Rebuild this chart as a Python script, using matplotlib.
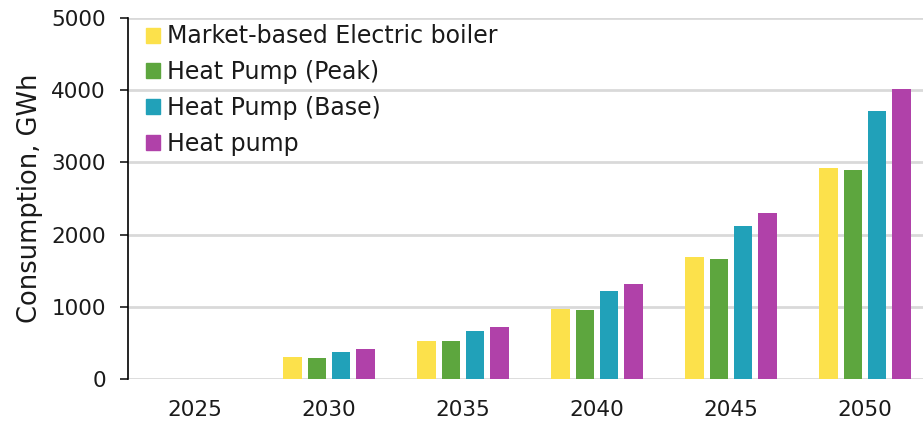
import numpy as np
import matplotlib.pyplot as plt
from matplotlib.patches import Patch

years = ["2025", "2030", "2035", "2040", "2045", "2050"]
electric_boiler = [0, 300, 526, 964, 1687, 2922]
hp_peak = [0, 290, 521, 958, 1664, 2895]
hp_base = [0, 373, 668, 1213, 2120, 3707]
heat_pump = [0, 411, 723, 1318, 2304, 4015]

series = [
    ("Market-based Electric boiler", electric_boiler, "#FCE14B"),
    ("Heat Pump (Peak)", hp_peak, "#5DA63E"),
    ("Heat Pump (Base)", hp_base, "#21A1B9"),
    ("Heat pump", heat_pump, "#B041A9"),
]

plt.rcParams["font.family"] = "DejaVu Sans"

fig = plt.figure(figsize=(9.23, 4.25), dpi=100)
ax = fig.add_axes([128 / 923, 46 / 425, 804 / 923, 361 / 425])

x = np.arange(len(years))
pitch = 0.18
width = 0.14
for i, (name, vals, col) in enumerate(series):
    ax.bar(x + (i - 1.5) * pitch, vals, width, color=col, label=name, zorder=3)

ax.set_xlim(-0.5, 5.5)
ax.set_ylim(0, 5000)
ax.set_yticks(range(0, 5001, 1000))
ax.set_xticks(x)
ax.set_xticklabels(years)
ax.tick_params(axis="both", labelsize=15.5, colors="#1a1a1a")
ax.tick_params(axis="x", length=0, pad=15)
ax.tick_params(axis="y", length=6, width=1.2, pad=10)
ax.yaxis.grid(True, color="#d9d9d9", linewidth=2, zorder=0)
ax.set_axisbelow(True)
for side in ["top", "right", "bottom"]:
    ax.spines[side].set_visible(False)
ax.spines["left"].set_linewidth(1.2)
ax.spines["left"].set_zorder(4)

ax.set_ylabel("Consumption, GWh", fontsize=18.5, labelpad=6, color="#1a1a1a")

handles = [Patch(color=c, label=n) for n, _, c in series]
leg = ax.legend(handles=handles, loc="upper left", bbox_to_anchor=(-0.004, 1.041),
                frameon=False, fontsize=17, handlelength=0.6, handleheight=0.6,
                handletextpad=0.3, labelspacing=0.5, borderaxespad=0.5)
for t in leg.get_texts():
    t.set_color("#1a1a1a")

fig.savefig("out.png", dpi=100)
